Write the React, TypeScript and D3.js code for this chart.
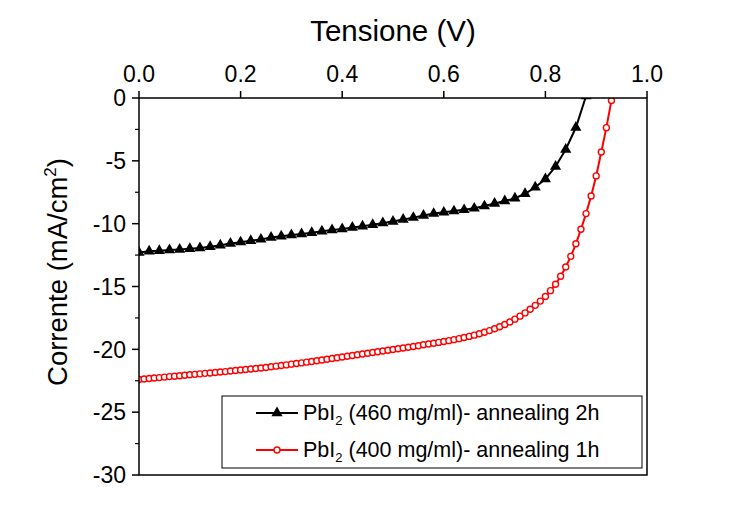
import React from "react";
import * as d3 from "d3";

const blackV = [0.00,0.02,0.04,0.06,0.08,0.10,0.12,0.14,0.16,0.18,0.20,0.22,0.24,0.26,0.28,0.30,0.32,0.34,0.36,0.38,0.40,0.42,0.44,0.46,0.48,0.50,0.52,0.54,0.56,0.58,0.60,0.62,0.64,0.66,0.68,0.70,0.72,0.74,0.76,0.78,0.80,0.82,0.84,0.86,0.88];
const blackJ = [-12.30,-12.20,-12.15,-12.10,-12.05,-12.00,-11.93,-11.83,-11.72,-11.58,-11.47,-11.36,-11.25,-11.10,-11.00,-10.90,-10.82,-10.72,-10.60,-10.50,-10.42,-10.30,-10.20,-10.08,-9.95,-9.82,-9.67,-9.52,-9.35,-9.20,-9.10,-9.00,-8.90,-8.78,-8.60,-8.40,-8.20,-7.98,-7.62,-7.10,-6.45,-5.45,-4.10,-2.35,0.15];

const redV = [0.00,0.01,0.02,0.03,0.04,0.05,0.06,0.07,0.08,0.09,0.10,0.11,0.12,0.13,0.14,0.15,0.16,0.17,0.18,0.19,0.20,0.21,0.22,0.23,0.24,0.25,0.26,0.27,0.28,0.29,0.30,0.31,0.32,0.33,0.34,0.35,0.36,0.37,0.38,0.39,0.40,0.41,0.42,0.43,0.44,0.45,0.46,0.47,0.48,0.49,0.50,0.51,0.52,0.53,0.54,0.55,0.56,0.57,0.58,0.59,0.60,0.61,0.62,0.63,0.64,0.65,0.66,0.67,0.68,0.69,0.70,0.71,0.72,0.73,0.74,0.75,0.76,0.77,0.78,0.79,0.80,0.81,0.82,0.83,0.84,0.85,0.86,0.87,0.88,0.89,0.90,0.91,0.92,0.93];
const redJ = [-22.40,-22.36,-22.32,-22.28,-22.25,-22.21,-22.17,-22.14,-22.10,-22.06,-22.02,-21.99,-21.95,-21.91,-21.88,-21.84,-21.80,-21.77,-21.73,-21.69,-21.65,-21.61,-21.57,-21.53,-21.49,-21.44,-21.39,-21.34,-21.29,-21.24,-21.18,-21.13,-21.08,-21.02,-20.97,-20.91,-20.85,-20.79,-20.73,-20.67,-20.61,-20.55,-20.49,-20.43,-20.37,-20.31,-20.25,-20.19,-20.13,-20.07,-20.01,-19.95,-19.89,-19.83,-19.77,-19.71,-19.64,-19.58,-19.51,-19.45,-19.38,-19.31,-19.23,-19.15,-19.06,-18.97,-18.87,-18.76,-18.64,-18.51,-18.36,-18.20,-18.02,-17.82,-17.60,-17.36,-17.10,-16.81,-16.50,-16.16,-15.79,-15.33,-14.82,-14.18,-13.45,-12.60,-11.60,-10.45,-9.20,-7.80,-6.20,-4.30,-2.36,-0.20];

const xTicks = [0, 0.2, 0.4, 0.6, 0.8, 1.0];
const yTicks = [0, -5, -10, -15, -20, -25, -30];
const yMinorTicks = [-2.5, -7.5, -12.5, -17.5, -22.5, -27.5];

const seriesNames = ["460 mg/ml)- annealing 2h", "400 mg/ml)- annealing 1h"];

const FONT = "Arial, 'Liberation Sans', sans-serif";

export default function App() {
  const left = 139, right = 647, top = 98, bottom = 475;
  const x = d3.scaleLinear().domain([0, 1]).range([left, right]);
  const y = d3.scaleLinear().domain([-30, 0]).range([bottom, top]);

  const black = blackV.map((v, i) => [v, blackJ[i]] as [number, number]);
  const red = redV.map((v, i) => [v, redJ[i]] as [number, number]);

  const line = d3.line<[number, number]>().x(d => x(d[0])).y(d => y(d[1]));
  const tri = d3.symbol().type(d3.symbolTriangle).size(54)() as string;

  const legX = 222, legY = 396, legW = 420, legH = 72;

  return (
    <svg width={732} height={525} style={{ position: "absolute", left: 0, top: 0 }}>
      <rect x={0} y={0} width={732} height={525} fill="#fff" />
      <defs>
        <clipPath id="plotclip">
          <rect x={left} y={top} width={right - left} height={bottom - top} />
        </clipPath>
      </defs>

      {/* title */}
      <text x={(left + right) / 2} y={41} fontFamily={FONT} fontSize={29.5} textAnchor="middle" fill="#000">Tensione (V)</text>

      {/* y label */}
      <text transform={`translate(67, 272) rotate(-90)`} fontFamily={FONT} fontSize={27.5} textAnchor="middle" fill="#000">
        Corrente (mA/cm<tspan dy={-11} fontSize={17}>2</tspan><tspan dy={11}>)</tspan>
      </text>

      {/* data */}
      <g clipPath="url(#plotclip)">
        <path d={line(black) as string} fill="none" stroke="#000" strokeWidth={2} />
        {black.map((d, i) => (
          <path key={"b" + i} d={tri} transform={`translate(${x(d[0])},${y(d[1])})`} fill="#000" />
        ))}
        <path d={line(red) as string} fill="none" stroke="#ff0000" strokeWidth={2} />
        {red.map((d, i) => (
          <circle key={"r" + i} cx={x(d[0])} cy={y(d[1])} r={3} fill="#fff" stroke="#ff0000" strokeWidth={1.4} />
        ))}
      </g>

      {/* frame */}
      <rect x={left} y={top} width={right - left} height={bottom - top} fill="none" stroke="#000" strokeWidth={1.5} />

      {/* x ticks (top) */}
      {xTicks.map(t => (
        <g key={"xt" + t}>
          <line x1={x(t)} x2={x(t)} y1={top} y2={top - 7} stroke="#000" strokeWidth={1.5} />
          <text x={x(t)} y={82} fontFamily={FONT} fontSize={23} textAnchor="middle" fill="#000">{t.toFixed(1)}</text>
        </g>
      ))}

      {/* y ticks */}
      {yTicks.map(t => (
        <g key={"yt" + t}>
          <line x1={left} x2={left - 7} y1={y(t)} y2={y(t)} stroke="#000" strokeWidth={1.5} />
          <text x={left - 13} y={y(t) + 8.2} fontFamily={FONT} fontSize={23} textAnchor="end" fill="#000">{t}</text>
        </g>
      ))}
      {yMinorTicks.map(t => (
        <line key={"ym" + t} x1={left} x2={left - 4} y1={y(t)} y2={y(t)} stroke="#000" strokeWidth={1.2} />
      ))}

      {/* legend */}
      <rect x={legX} y={legY} width={legW} height={legH} fill="#fff" stroke="#000" strokeWidth={1} />
      <g>
        <line x1={256} x2={298} y1={413} y2={413} stroke="#000" strokeWidth={2} />
        <path d={tri} transform="translate(277,413)" fill="#000" />
        <text x={303} y={420} fontFamily={FONT} fontSize={21.5} fill="#000">
          PbI<tspan dy={5} fontSize={13}>2</tspan><tspan dy={-5}> ({seriesNames[0]}</tspan>
        </text>
      </g>
      <g>
        <line x1={256} x2={298} y1={450} y2={450} stroke="#ff0000" strokeWidth={2} />
        <circle cx={277} cy={450} r={3} fill="#fff" stroke="#ff0000" strokeWidth={1.4} />
        <text x={303} y={457} fontFamily={FONT} fontSize={21.5} fill="#000">
          PbI<tspan dy={5} fontSize={13}>2</tspan><tspan dy={-5}> ({seriesNames[1]}</tspan>
        </text>
      </g>
    </svg>
  );
}
